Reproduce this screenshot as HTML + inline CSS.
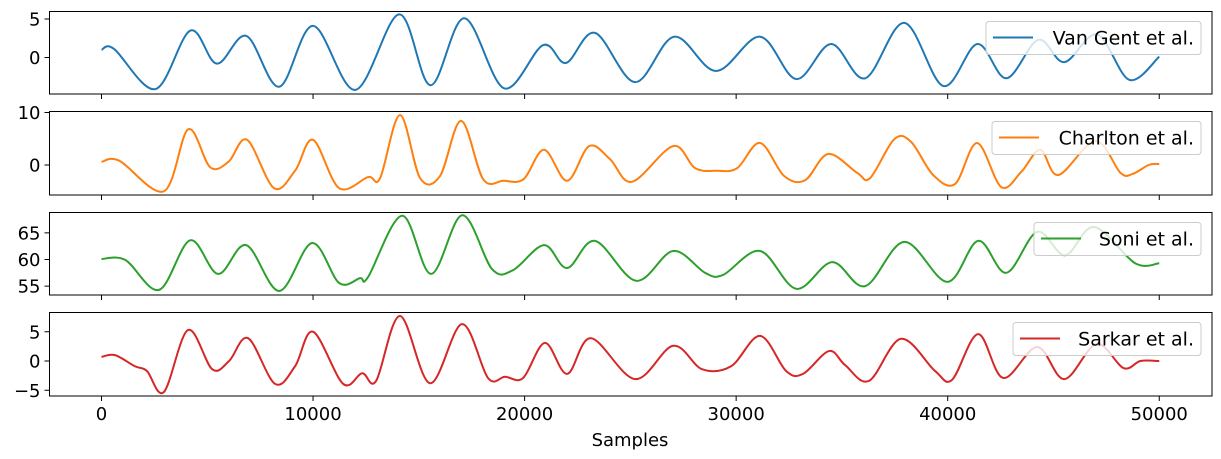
<!DOCTYPE html>
<html><head><meta charset="utf-8"><style>
html,body{margin:0;padding:0;background:#fff;}
svg{display:block;font-family:"DejaVu Sans","Liberation Sans",sans-serif;}
</style></head><body>
<svg id="chart" width="1221" height="459" viewBox="0 0 1221 459"></svg>
<script>
// ---- data ----
const xTicks = [0, 10000, 20000, 30000, 40000, 50000];
const vgX = [0,600,2550,4200,5450,6850,8400,10000,12000,14070,15550,17150,19030,20870,21960,23330,25220,27070,29050,31130,32840,34490,36100,37950,39790,41400,42770,44280,45510,47070,48580,50000];
const vgY = [1.0,1.1,-4.1,3.5,-0.8,2.8,-3.8,4.1,-4.2,5.6,-3.6,5.1,-4.0,1.6,-0.7,3.2,-3.2,2.7,-1.75,2.7,-2.8,1.75,-2.7,4.5,-3.7,1.75,-2.7,2.3,-0.6,3.0,-2.9,0.1];
const chX = [0,850,2950,4100,5130,6000,6880,8150,9150,10000,11230,12600,13170,14110,15060,16000,17000,18040,19000,19950,20920,22010,23050,24040,25080,27020,28060,29100,30050,31130,32270,33260,34350,35720,36330,37470,38270,39310,40350,41390,42530,43480,44380,45230,46980,48170,48740,49500,50000];
const chY = [0.6,0.8,-5,6.8,-0.4,0.6,4.8,-4.4,-1.1,4.8,-4.4,-2.3,-2.5,9.5,-2.5,-2.1,8.4,-2.7,-3.0,-2.7,2.9,-3.0,3.6,1.1,-3.2,3.6,-0.6,-1.1,-0.6,4.2,-2.1,-2.9,2.1,-1.5,-2.5,4.9,4.4,-1.9,-3.6,4.2,-4.2,-1.3,2.9,-1.9,4.6,-1.5,-1.7,0,0.2];
const soX = [0,1130,2720,4190,5510,6840,8400,9950,11230,12220,12600,14210,15580,17050,18460,19450,20920,22010,23330,25270,27020,28530,29380,31130,32840,34540,36100,37950,39980,41440,42770,44230,45550,46920,48860,50000];
const soY = [60.1,59.9,54.3,63.6,57.3,62.7,54.1,63.1,55.6,56.5,56.7,68.2,57.3,68.3,58.2,58.0,62.7,58.4,63.5,56.0,61.6,57.5,57.1,61.6,54.5,59.5,55.0,63.3,55.8,63.5,57.5,65.2,60.8,66.1,59.3,59.3];
const saX = [0,640,1580,2150,2950,4090,5230,6030,6930,8200,9150,10000,11420,12320,12980,14110,15530,17040,18270,19080,19930,20960,22010,23140,25220,27020,28390,29760,31130,32360,33160,34390,35150,36280,37790,39400,40210,41440,42620,44230,45510,47030,48310,49110,50000];
const saY = [0.7,1.0,-0.9,-1.7,-5.3,5.3,-1.4,0,3.9,-3.9,-0.9,5.0,-3.9,-2.1,-3.4,7.7,-3.8,6.3,-2.9,-2.7,-2.9,3.1,-2.2,3.9,-3.1,2.6,-1.4,-0.9,4.3,-1.7,-2.2,1.7,-0.7,-3.4,3.8,-1.7,-3.2,4.6,-2.9,2.4,-3.1,2.9,-1.2,0,0];
const vgTicks = [0, 5];
const chTicks = [0, 10];
const soTicks = [55, 60, 65];
const saTicks = [-5, 0, 5];

// ---- layout ----
const NS = "http://www.w3.org/2000/svg";
const svg = document.getElementById('chart');
const L = 49.5, R = 1212;
const xOf = v => 101.5 + v * 0.021155;
function mk(tag, attrs, parent) {
  const e = document.createElementNS(NS, tag);
  for (const k in attrs) e.setAttribute(k, attrs[k]);
  (parent || svg).appendChild(e);
  return e;
}
function smoothPath(px, py) {
  let d = `M${px[0].toFixed(2)},${py[0].toFixed(2)}`;
  for (let i = 0; i < px.length - 1; i++) {
    const x0 = px[Math.max(i-1,0)], y0 = py[Math.max(i-1,0)];
    const x1 = px[i], y1 = py[i], x2 = px[i+1], y2 = py[i+1];
    const x3 = px[Math.min(i+2,px.length-1)], y3 = py[Math.min(i+2,px.length-1)];
    const c1x = x1 + (x2 - x0) / 6, c1y = y1 + (y2 - y0) / 6;
    const c2x = x2 - (x3 - x1) / 6, c2y = y2 - (y3 - y1) / 6;
    d += ` C${c1x.toFixed(2)},${c1y.toFixed(2)} ${c2x.toFixed(2)},${c2y.toFixed(2)} ${x2.toFixed(2)},${y2.toFixed(2)}`;
  }
  return d;
}
const panels = [
  {name:'van-gent', top:11.5, bot:94, y0:57.5, k:7.7, base:0, xs:vgX, ys:vgY, ticks:vgTicks, color:'#1f77b4', label:'Van Gent et al.', lx:986, lw:215},
  {name:'charlton', top:111.5, bot:195, y0:165, k:5.25, base:0, xs:chX, ys:chY, ticks:chTicks, color:'#ff7f0e', label:'Charlton et al.', lx:992, lw:209},
  {name:'soni', top:212.5, bot:295, y0:259.5, k:5.33, base:60, xs:soX, ys:soY, ticks:soTicks, color:'#2ca02c', label:'Soni et al.', lx:1034, lw:167},
  {name:'sarkar', top:312.5, bot:396, y0:361, k:5.85, base:0, xs:saX, ys:saY, ticks:saTicks, color:'#d62728', label:'Sarkar et al.', lx:1013, lw:188}
];
panels.forEach((p, idx) => {
  const g = mk('g', {});
  
  
  const yOf = v => p.y0 - (v - p.base) * p.k;
  const clipId = 'clip' + idx;
  const cp = mk('clipPath', {id: clipId}, g);
  mk('rect', {x:L, y:p.top, width:R-L, height:p.bot-p.top}, cp);
  const line = mk('path', {d: smoothPath(p.xs.map(xOf), p.ys.map(yOf)), fill:'none', stroke:p.color, 'stroke-width':2, 'clip-path':`url(#${clipId})`}, g);
  
  
  const frame = mk('rect', {x:L, y:p.top, width:R-L, height:p.bot-p.top, fill:'none', stroke:'#000', 'stroke-width':1}, g);
  
  
  p.ticks.forEach(t => {
    const y = yOf(t);
    mk('line', {x1:L-5, x2:L, y1:y, y2:y, stroke:'#000', 'stroke-width':1}, g);
    const tx = mk('text', {x:L-9, y:y+6.5, 'text-anchor':'end', 'font-size':18, fill:'#000'}, g);
    tx.textContent = t < 0 ? '\u2212' + Math.abs(t) : String(t);
    
    
  });
  xTicks.forEach(t => {
    const x = xOf(t);
    mk('line', {x1:x, x2:x, y1:p.bot, y2:p.bot+5, stroke:'#000', 'stroke-width':1}, g);
    if (idx === 3) {
      const tx = mk('text', {x:x, y:p.bot+24, 'text-anchor':'middle', 'font-size':18, fill:'#000'}, g);
      tx.textContent = String(t);
      
      
    }
  });
  const lg = mk('g', {}, g);
  
  
  const ly = p.top + 10;
  mk('rect', {x:p.lx, y:ly, width:p.lw, height:33, rx:3, fill:'rgba(255,255,255,0.8)', stroke:'#ccc', 'stroke-width':1}, lg);
  mk('line', {x1:p.lx+7, x2:p.lx+47, y1:ly+16, y2:ly+16, stroke:p.color, 'stroke-width':2}, lg);
  const lt = mk('text', {x:p.lx+p.lw-7, y:ly+23, 'text-anchor':'end', 'font-size':19, fill:'#000'}, lg);
  lt.textContent = p.label;
  
  
});
const xl = mk('text', {x:630, y:446, 'text-anchor':'middle', 'font-size':18, fill:'#000'});
xl.textContent = 'Samples';


</script>
</body></html>
